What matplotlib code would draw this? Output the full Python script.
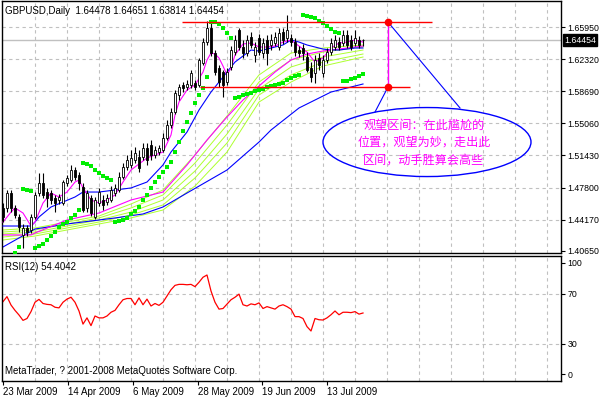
import numpy as np
import matplotlib.pyplot as plt
from matplotlib.patches import Ellipse
import matplotlib.transforms as mtransforms

plt.rcParams['font.family'] = ['Liberation Sans', 'Noto Sans CJK SC', 'DejaVu Sans']

W, H = 599, 398

header = 'GBPUSD,Daily  1.64478 1.64651 1.63814 1.64454'
last_price = 1.64454
date_labels = ['23 Mar 2009', '14 Apr 2009', '6 May 2009', '28 May 2009', '19 Jun 2009', '13 Jul 2009']
date_pos = [0, 16.25, 32.5, 48.75, 64.75, 81]
price_ticks = [1.6595, 1.6232, 1.5869, 1.5506, 1.5143, 1.4780, 1.4417]
price_bottom = 1.4065

# daily candles (bar 0 = 23 Mar 2009)
opens = [1.4550, 1.4550, 1.4719, 1.4550, 1.4448, 1.4245, 1.4324, 1.4301, 1.4448, 1.4719,
         1.4832, 1.4730, 1.4719, 1.4663, 1.4640, 1.4606, 1.4832, 1.4866, 1.4979, 1.4923,
         1.4787, 1.4550, 1.4663, 1.4448, 1.4606, 1.4640, 1.4617, 1.4640, 1.4719, 1.4753,
         1.4900, 1.5013, 1.5036, 1.5092, 1.5126, 1.5126, 1.5228, 1.5262, 1.5149, 1.5182,
         1.5205, 1.5341, 1.5488, 1.5634, 1.5827, 1.5940, 1.5917, 1.5940, 1.5962, 1.5940,
         1.6188, 1.6425, 1.6584, 1.6301, 1.6132, 1.6086, 1.5973, 1.6143, 1.6312, 1.6561,
         1.6369, 1.6301, 1.6482, 1.6279, 1.6471, 1.6301, 1.6448, 1.6392, 1.6414, 1.6369,
         1.6538, 1.6471, 1.6471, 1.6425, 1.6335, 1.6358, 1.6256, 1.6132, 1.6075, 1.6245,
         1.6075, 1.6222, 1.6312, 1.6369, 1.6425, 1.6414, 1.6505, 1.6448, 1.6414, 1.6448,
         1.64478]
highs = [1.4606, 1.4753, 1.4753, 1.4584, 1.4482, 1.4369, 1.4358, 1.4482, 1.4730, 1.4945,
         1.4945, 1.4776, 1.4753, 1.4697, 1.4708, 1.4866, 1.4923, 1.5036, 1.5013, 1.4956,
         1.4832, 1.4753, 1.4697, 1.4674, 1.4776, 1.4697, 1.4708, 1.4798, 1.4821, 1.4956,
         1.5058, 1.5149, 1.5205, 1.5239, 1.5205, 1.5284, 1.5284, 1.5318, 1.5250, 1.5262,
         1.5397, 1.5544, 1.5680, 1.5883, 1.5951, 1.5973, 1.5996, 1.6109, 1.5996, 1.6245,
         1.6471, 1.6663, 1.6663, 1.6335, 1.6166, 1.6109, 1.6132, 1.6380, 1.6505, 1.6584,
         1.6448, 1.6505, 1.6538, 1.6425, 1.6516, 1.6471, 1.6505, 1.6516, 1.6538, 1.6584,
         1.6584, 1.6731, 1.6516, 1.6471, 1.6380, 1.6403, 1.6312, 1.6199, 1.6279, 1.6301,
         1.6279, 1.6358, 1.6471, 1.6505, 1.6482, 1.6561, 1.6561, 1.6505, 1.6561, 1.6493,
         1.64651]
lows = [1.4391, 1.4504, 1.4504, 1.4437, 1.4278, 1.4098, 1.4233, 1.4267, 1.4425, 1.4685,
        1.4663, 1.4561, 1.4595, 1.4504, 1.4595, 1.4584, 1.4798, 1.4843, 1.4866, 1.4753,
        1.4504, 1.4504, 1.4459, 1.4425, 1.4572, 1.4527, 1.4584, 1.4617, 1.4685, 1.4730,
        1.4877, 1.4979, 1.5002, 1.5058, 1.4956, 1.5092, 1.5036, 1.5092, 1.5115, 1.5149,
        1.5182, 1.5318, 1.5454, 1.5612, 1.5770, 1.5860, 1.5883, 1.5906, 1.5883, 1.5917,
        1.6166, 1.6392, 1.6267, 1.6053, 1.5917, 1.5804, 1.5940, 1.6109, 1.6279, 1.6335,
        1.6245, 1.6267, 1.6358, 1.6199, 1.6279, 1.6245, 1.6166, 1.6335, 1.6380, 1.6335,
        1.6403, 1.6425, 1.6380, 1.6267, 1.6256, 1.6222, 1.6086, 1.5973, 1.5962, 1.6109,
        1.6030, 1.6188, 1.6279, 1.6335, 1.6335, 1.6380, 1.6358, 1.6335, 1.6380, 1.6358,
        1.63814]
closes = [1.4448, 1.4719, 1.4550, 1.4471, 1.4335, 1.4324, 1.4278, 1.4448, 1.4697, 1.4832,
          1.4697, 1.4663, 1.4640, 1.4606, 1.4674, 1.4843, 1.4889, 1.4979, 1.4900, 1.4832,
          1.4527, 1.4719, 1.4493, 1.4640, 1.4730, 1.4584, 1.4663, 1.4753, 1.4776, 1.4900,
          1.5013, 1.5092, 1.5115, 1.5171, 1.5002, 1.5228, 1.5092, 1.5149, 1.5205, 1.5228,
          1.5341, 1.5488, 1.5634, 1.5849, 1.5917, 1.5906, 1.5951, 1.6075, 1.5917, 1.6222,
          1.6425, 1.6584, 1.6301, 1.6086, 1.5973, 1.5940, 1.6086, 1.6335, 1.6448, 1.6369,
          1.6301, 1.6448, 1.6392, 1.6369, 1.6312, 1.6414, 1.6301, 1.6448, 1.6482, 1.6527,
          1.6448, 1.6561, 1.6425, 1.6312, 1.6301, 1.6301, 1.6109, 1.6030, 1.6222, 1.6166,
          1.6222, 1.6312, 1.6414, 1.6448, 1.6369, 1.6505, 1.6392, 1.6369, 1.6471, 1.6392,
          1.64454]

# parabolic SAR dots
sar = [np.nan, np.nan, np.nan, 1.4041, 1.4109, 1.4764, 1.4753, 1.4742, 1.4098, 1.4120,
       1.4143, 1.4188, 1.4233, 1.4278, 1.4335, 1.4369, 1.4391, 1.4437, 1.4471, 1.4527,
       1.5058, 1.5047, 1.5024, 1.4979, 1.4945, 1.4911, 1.4889, 1.4866, 1.4391, 1.4403,
       1.4414, 1.4437, 1.4482, 1.4516, 1.4561, 1.4640, 1.4697, 1.4776, 1.4843, 1.4900,
       1.4956, 1.5013, 1.5069, 1.5182, 1.5295, 1.5420, 1.5521, 1.5623, 1.5736, 1.5827,
       1.5906, 1.6030, 1.6651, 1.6651, 1.6629, 1.6584, 1.6527, 1.6471, 1.5793, 1.5804,
       1.5827, 1.5838, 1.5849, 1.5872, 1.5883, 1.5894, 1.5917, 1.5928, 1.5940, 1.5951,
       1.5962, 1.5996, 1.6019, 1.6041, 1.6053, 1.6731, 1.6719, 1.6708, 1.6697, 1.6663,
       1.6640, 1.6606, 1.6572, 1.6538, 1.6527, 1.5985, 1.5985, 1.6007, 1.6019, 1.6041,
       1.6064]

# moving averages, read at selected bars
ma_fast_bars = [0, 2, 3, 5, 7, 8, 10, 12, 14, 16, 18, 19, 20, 22, 24, 26, 28, 30, 32, 34, 36,
                38, 40, 42, 43, 44, 46, 48, 50, 51, 52, 53, 54, 55, 56, 57, 58, 60, 62, 64, 66,
                68, 70, 72, 74, 76, 78, 80, 82, 84, 86, 88, 90]
ma_fast = [1.4391, 1.4504, 1.4550, 1.4493, 1.4346, 1.4391, 1.4606, 1.4719, 1.4674, 1.4730,
           1.4843, 1.4866, 1.4776, 1.4640, 1.4606, 1.4640, 1.4697, 1.4843, 1.4979, 1.5047,
           1.5115, 1.5149, 1.5182, 1.5375, 1.5601, 1.5747, 1.5883, 1.5940, 1.6086, 1.6222,
           1.6301, 1.6290, 1.6245, 1.6154, 1.6053, 1.6132, 1.6279, 1.6403, 1.6414, 1.6369,
           1.6369, 1.6380, 1.6425, 1.6448, 1.6380, 1.6312, 1.6199, 1.6245, 1.6358, 1.6414,
           1.6425, 1.6448, 1.6425]
ma_mid_bars = [0, 7, 8, 9, 12, 15, 18, 20, 24, 28, 32, 36, 40, 42, 46, 49, 52, 54, 56, 58, 60,
               62, 64, 66, 68, 70, 72, 74, 76, 78, 80, 82, 84, 86, 88, 90]
ma_mid = [1.4346, 1.4346, 1.4391, 1.4448, 1.4561, 1.4617, 1.4674, 1.4730, 1.4730, 1.4753,
          1.4776, 1.4843, 1.5036, 1.5182, 1.5408, 1.5657, 1.5860, 1.5973, 1.6086, 1.6199,
          1.6267, 1.6335, 1.6324, 1.6346, 1.6369, 1.6392, 1.6448, 1.6425, 1.6392, 1.6369,
          1.6346, 1.6335, 1.6335, 1.6346, 1.6358, 1.6358]
ma_slow_m_bars = [0, 7, 8, 16, 24, 32, 40, 46, 51, 56, 60, 64, 68, 72, 76, 80, 84, 88, 90]
ma_slow_m = [1.4245, 1.4245, 1.4267, 1.4414, 1.4493, 1.4640, 1.4730, 1.5036, 1.5318, 1.5578,
             1.5770, 1.5928, 1.6086, 1.6222, 1.6290, 1.6324, 1.6346, 1.6369, 1.6380]
ribbon_bars = [0, 8, 16, 24, 32, 40, 48, 56, 64, 72, 80, 90]
ribbon_1 = [1.4301, 1.4324, 1.4391, 1.4459, 1.4595, 1.4753, 1.5149, 1.5589, 1.6053, 1.6301, 1.6358, 1.6392]
ribbon_2 = [1.4278, 1.4301, 1.4369, 1.4437, 1.4550, 1.4697, 1.5058, 1.5488, 1.5973, 1.6222, 1.6312, 1.6369]
ribbon_3 = [1.4256, 1.4278, 1.4346, 1.4414, 1.4504, 1.4640, 1.4968, 1.5386, 1.5894, 1.6143, 1.6256, 1.6335]
ribbon_4 = [1.4222, 1.4256, 1.4324, 1.4391, 1.4471, 1.4584, 1.4889, 1.5284, 1.5827, 1.6053, 1.6199, 1.6290]
ribbon_5 = [1.4188, 1.4233, 1.4301, 1.4369, 1.4437, 1.4527, 1.4798, 1.5182, 1.5747, 1.5973, 1.6154, 1.6256]
ma_slow_b_bars = [0, 4, 8, 16, 24, 28, 35, 40, 46, 56, 64, 67, 74, 82, 90]
ma_slow_b = [1.4109, 1.4211, 1.4312, 1.4369, 1.4414, 1.4437, 1.4482, 1.4561, 1.4719, 1.4979,
             1.5295, 1.5431, 1.5680, 1.5860, 1.5951]

rsi = [63.5, 67.5, 60.8, 56.5, 52.8, 48.5, 50.0, 55.5, 63.0, 65.3,
       62.0, 61.3, 61.0, 59.0, 58.5, 63.0, 65.5, 67.0, 63.0, 56.0,
       45.5, 50.5, 44.3, 52.0, 50.5, 50.5, 52.0, 55.0, 56.5, 61.0,
       65.0, 66.0, 66.0, 61.0, 66.5, 61.0, 65.5, 60.0, 62.0, 60.5,
       63.0, 68.0, 73.0, 76.5, 77.3, 77.3, 77.0, 77.3, 75.5, 79.0,
       83.0, 84.8, 72.0, 63.0, 57.5, 58.0, 61.5, 65.0, 67.0, 69.5,
       61.0, 60.0, 61.7, 61.0, 62.5, 58.0, 59.5, 58.5, 57.5, 60.0,
       61.0, 59.5, 57.5, 51.5, 51.5, 50.0, 43.5, 40.0, 50.0, 49.0,
       48.8, 50.5, 53.0, 56.0, 53.0, 55.0, 55.0, 54.7, 55.5, 53.5,
       54.4]

# hand-drawn marks: range box, callout
range_top, range_bottom = 1.6651, 1.5917
range_top_span = (44.75, 107.25)
range_bottom_span = (49.25, 101.75)
range_x = 96.25
note_text = '观望区间：在此尴尬的\n位置，观望为妙，走出此\n区间，动手胜算会高些'

grid_color = '#c0c0c0'
dash = (0, (3, 3))
tick_fs = 6.3

fig = plt.figure(figsize=(W / 100, H / 100), dpi=100)


def px_axes(left, top, right, bottom):
    return fig.add_axes([left / W, 1 - bottom / H, (right - left) / W, (bottom - top) / H])


ax = px_axes(2, 1, 561, 253)
ax2 = px_axes(2, 256, 561, 381)

x = np.arange(len(closes))
xmin, xmax = -0.25, 139.5
vgrid = np.arange(8, 140, 8)

# --- price pane ---
ax.set_xlim(xmin, xmax)
ax.set_ylim(1.4041, 1.6889)
for p in price_ticks:
    ax.axhline(p, color=grid_color, lw=0.8, ls=dash, zorder=0)
for g in vgrid:
    ax.axvline(g, color=grid_color, lw=0.8, ls=dash, zorder=0)
ax.axhline(last_price, color='#c0c0c0', lw=1.0, zorder=1)

for series in [ribbon_1, ribbon_2, ribbon_3, ribbon_4, ribbon_5]:
    ax.plot(ribbon_bars, series, color='#adff2f', lw=0.7, zorder=2)
ax.plot(ma_slow_b_bars, ma_slow_b, color='#0000ff', lw=0.8, zorder=2)
ax.plot(ma_slow_m_bars, ma_slow_m, color='#ff00ff', lw=0.8, zorder=2)
ax.plot(ma_mid_bars, ma_mid, color='#0000ff', lw=0.8, zorder=3)
ax.plot(ma_fast_bars, ma_fast, color='#ff00ff', lw=0.8, zorder=3)

o = np.array(opens)
c = np.array(closes)
ax.vlines(x, lows, highs, color='black', lw=0.8, zorder=4)
body_low = np.minimum(o, c)
body_h = np.maximum(np.abs(c - o), 0.0003)
faces = ['white' if cc >= oo else 'black' for oo, cc in zip(o, c)]
ax.bar(x, body_h, bottom=body_low, width=0.7, color=faces, edgecolor='black', lw=0.6, zorder=5)

ax.plot(x, sar, ls='none', marker='s', ms=2.9, mew=0, color='#00ee00', zorder=6)

# range marks and callout
ax.hlines(range_top, *range_top_span, color='#ff0000', lw=1.0, zorder=7)
ax.hlines(range_bottom, *range_bottom_span, color='#ff0000', lw=1.0, zorder=7)
ax.vlines(range_x, range_bottom, range_top, color='#ff00ff', lw=1.0, zorder=7)
ax.plot([range_x, range_x], [range_top, range_bottom], 'o', color='#ff0000', ms=4.5, zorder=8)
ax.plot([93.0, range_x], [1.5634, range_bottom], color='#0000ff', lw=0.8, zorder=7)
ax.plot([range_x, 114.25], [range_top, 1.5680], color='#0000ff', lw=0.8, zorder=7)
ax.add_patch(Ellipse((106, 1.5295), 52, 0.078, fill=False, edgecolor='#0000ff', lw=1.0, zorder=7))
ax.text(105.2, 1.5290, note_text, ha='center', va='center', color='#ff00ff', fontsize=8.7,
        linespacing=1.45, family=['Noto Sans CJK SC', 'DejaVu Sans'], zorder=8)

ax.yaxis.tick_right()
ax.set_yticks(price_ticks + [price_bottom])
ax.set_yticklabels(['%.5f' % p for p in price_ticks + [price_bottom]])
ax.tick_params(axis='y', direction='out', length=3, width=0.8, labelsize=tick_fs, pad=1.5)
ax.set_xticks([])
for s in ax.spines.values():
    s.set_linewidth(1.0)

trans = mtransforms.blended_transform_factory(ax.transAxes, ax.transData)
ax.text(1.0055, last_price, '1.64454', transform=trans, color='white', fontsize=tick_fs, va='center',
        ha='left', bbox=dict(facecolor='black', edgecolor='black', pad=1.0), zorder=9)

fig.text(5 / W, 1 - 11 / H, header, fontsize=7, va='center', ha='left')

# --- RSI pane ---
ax2.set_xlim(xmin, xmax)
ax2.set_ylim(0, 100)
for lvl in [30, 70]:
    ax2.axhline(lvl, color=grid_color, lw=0.8, ls=dash, zorder=0)
for g in vgrid:
    ax2.axvline(g, color=grid_color, lw=0.8, ls=dash, zorder=0)
ax2.plot(x, rsi, color='#ff0000', lw=0.9)

ax2.yaxis.tick_right()
ax2.set_yticks([5.6, 30, 70, 94.4])
ax2.set_yticklabels(['0', '30', '70', '100'])
ax2.tick_params(axis='y', direction='out', length=3, width=0.8, labelsize=tick_fs, pad=1.5)
ax2.set_xticks(date_pos)
ax2.set_xticklabels(date_labels, ha='left')
ax2.tick_params(axis='x', direction='out', length=3, width=0.8, labelsize=7, pad=1)
for s in ax2.spines.values():
    s.set_linewidth(1.0)

fig.text(5 / W, 1 - 267 / H, 'RSI(12) 54.4042', fontsize=7, va='center', ha='left')
fig.text(5 / W, 1 - 371 / H, 'MetaTrader, ? 2001-2008 MetaQuotes Software Corp.', fontsize=7,
         va='center', ha='left')

fig.savefig('out.png', dpi=100)
